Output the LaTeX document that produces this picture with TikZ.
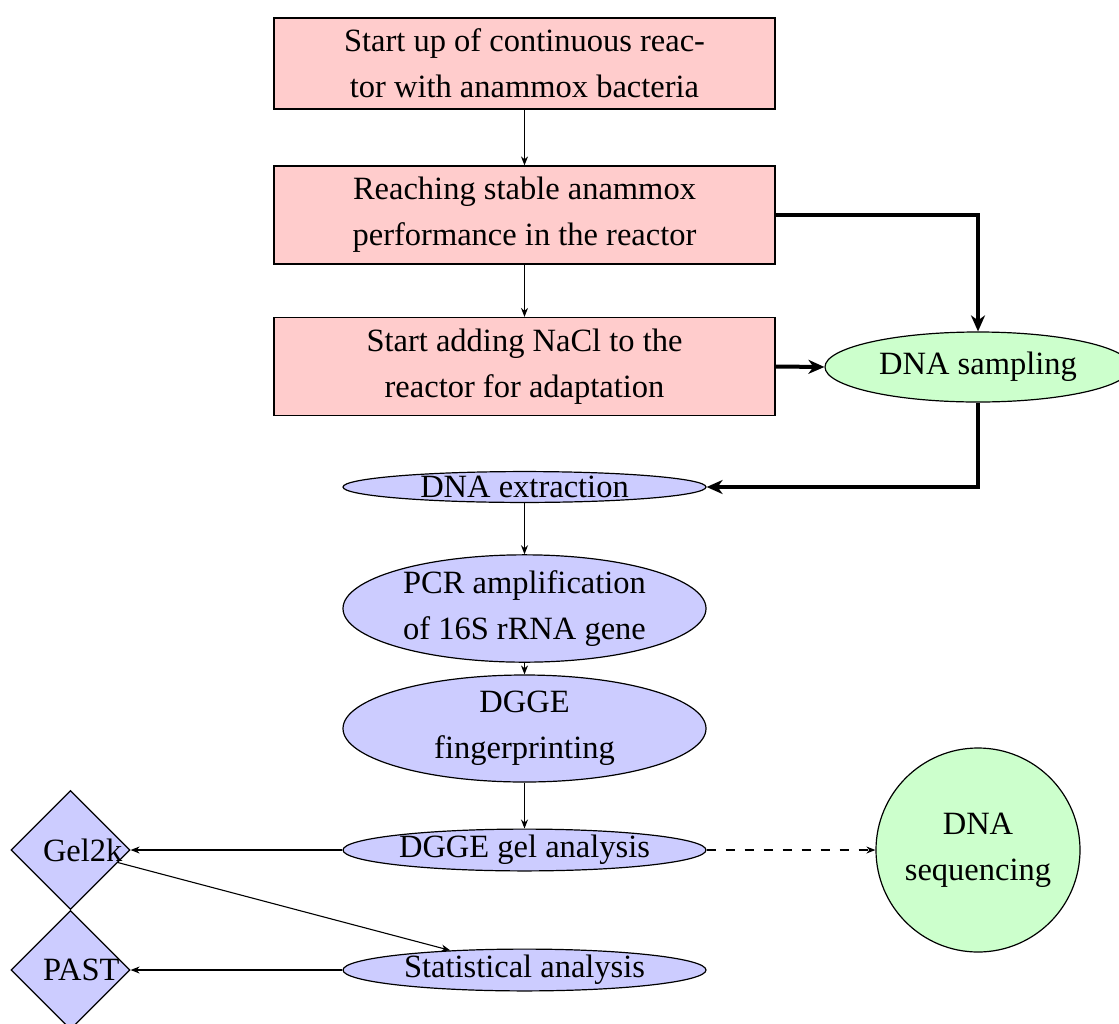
\documentclass[tikz,border=0pt]{standalone}
\usepackage{fontspec}
\setmainfont{Liberation Serif}
\usetikzlibrary{shapes.geometric,arrows.meta}
\begin{document}
\begin{tikzpicture}[x=1pt,y=-1pt,
  font=\fontsize{32.5}{46}\selectfont,
  procbox/.style={draw, line width=1.2pt, fill=red!20, rectangle, minimum width=501pt, align=center, inner sep=0pt},
  blueell/.style={draw, line width=1.2pt, fill=blue!20, ellipse, minimum width=363pt, inner sep=0pt, align=center},
  greenell/.style={draw, line width=1.2pt, fill=green!20, ellipse, inner sep=0pt, align=center},
  dia/.style={draw, line width=1.2pt, fill=blue!20, diamond, minimum width=119pt, minimum height=119pt, inner sep=0pt},
  thinarr/.style={line width=1.1pt, -{Stealth[length=9pt,width=7pt]}},
  thickarr/.style={line width=4pt, -{Stealth[length=16pt,width=14pt,inset=5pt]}},
]
\useasboundingbox (0,0) rectangle (1119,1023);
\clip (0,0) rectangle (1119,1023);

\node[procbox, minimum height=91pt] (a) at (524.5,63.5) {Start up of continuous reac-\\tor with anammox bacteria};
\node[procbox, minimum height=98pt] (b) at (524.5,215) {Reaching stable anammox\\performance in the reactor};
\node[procbox, minimum height=98pt] (c) at (524.5,366.5) {Start adding NaCl to the\\reactor for adaptation};

\node[greenell, minimum width=306pt, minimum height=70pt] (samp) at (978,367) {DNA sampling};

\node[blueell, minimum height=30pt] (ext) at (524.5,487) {DNA extraction};
\node[blueell, minimum height=107pt] (pcr) at (524.5,608.5) {PCR amplification\\of 16S rRNA gene};
\node[blueell, minimum height=107pt] (dgge) at (524.5,728.5) {DGGE\\fingerprinting};
\node[blueell, minimum height=36pt] (gel) at (524.5,850) {DGGE gel analysis};
\node[blueell, minimum height=37pt] (stat) at (524.5,970) {Statistical analysis};

\node[greenell, circle, minimum size=204pt] (seq) at (978,850) {DNA\\sequencing};

\node[dia] (gelk) at (70.5,850) {\makebox[55pt][l]{Gel2k}};
\node[dia] (past) at (70.5,970) {\makebox[55pt][l]{PAST}};

\draw[thinarr] (a) -- (b);
\draw[thinarr] (b) -- (c);
\draw[thickarr] (b.east) -| (samp.north);
\draw[thickarr] (c.east) -- (samp.west);
\draw[thickarr] (samp.south) |- (ext.east);
\draw[thinarr] (ext) -- (pcr);
\draw[thinarr] (pcr) -- (dgge);
\draw[thinarr] (dgge) -- (gel);
\draw[thinarr] (gel) -- (gelk);
\draw[thinarr, dash pattern=on 9.5pt off 9.5pt] (gel) -- (seq);
\draw[thinarr] (gelk) -- (stat);
\draw[thinarr] (stat) -- (past);
\end{tikzpicture}
\end{document}
